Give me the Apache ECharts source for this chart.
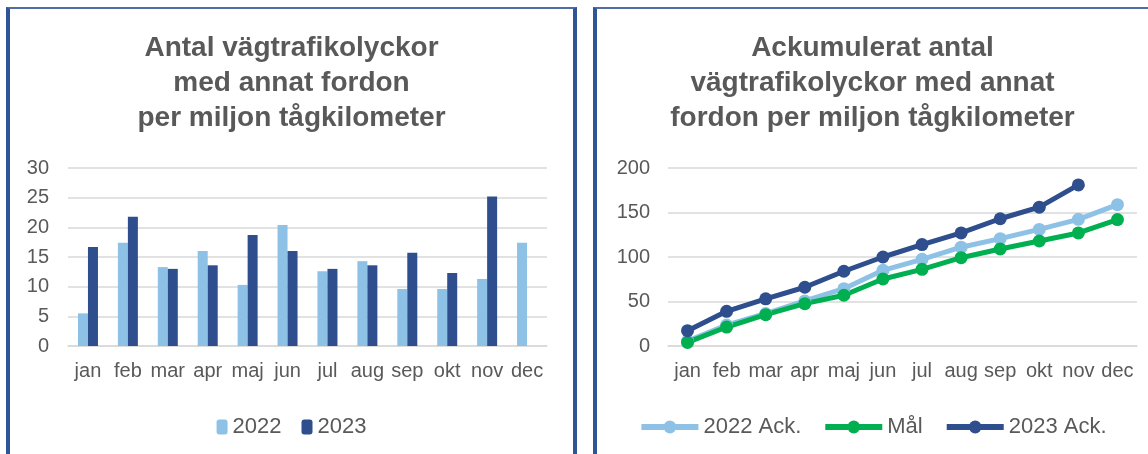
<!DOCTYPE html>
<html>
<head>
<meta charset="utf-8">
<title>Vägtrafikolyckor</title>
<script src="https://cdn.jsdelivr.net/npm/echarts@6/dist/echarts.min.js"></script>
<style>
	body { margin: 0; background: #fff; }
	.panel { position: absolute; top: 7px; height: 447px; box-sizing: border-box; border-top: 2px solid #4F6EA8; }
	#panelL { left: 6px; width: 571px; border-left: 4px solid #2F5597; border-right: 4px solid #2F5597; }
	#panelR { left: 593px; width: 555px; border-left: 4px solid #2F5597; }
	.chart { width: 100%; height: 445px; }
</style>
</head>
<body>
<div class="panel" id="panelL"><div class="chart" id="chartL"></div></div>
<div class="panel" id="panelR"><div class="chart" id="chartR"></div></div>
<script>
	var months = ['jan', 'feb', 'mar', 'apr', 'maj', 'jun', 'jul', 'aug', 'sep', 'okt', 'nov', 'dec'];

	/*antal per månad*/
	var bars2022 = [5.5, 17.4, 13.3, 16.0, 10.3, 20.4, 12.6, 14.3, 9.6, 9.6, 11.3, 17.4];
	var bars2023 = [16.7, 21.8, 13.0, 13.6, 18.7, 16.0, 13.0, 13.6, 15.7, 12.3, 25.2, null];

	/*ackumulerat*/
	var ack2022 = [5.5, 23.5, 36.5, 50.6, 64.4, 85, 97.4, 111, 120.6, 131, 142.3, 158.8];
	var malAck = [4, 21.3, 35.2, 47.6, 57, 75.3, 86.1, 99.2, 109, 118, 127, 142];
	var ack2023 = [17.2, 39, 53, 66, 84, 100, 114, 127, 143, 156, 181, null];

	var lightBlue = '#8DC2E6';
	var darkBlue = '#2E4E8E';
	var green = '#00B050';
	var grey = '#595959';
	var gridGrey = '#D9D9D9';
	var font = '"Liberation Sans", Arial, sans-serif';

	function titleOpt(text) {
		return {
			text: text,
			left: 'center',
			top: 17,
			textStyle: {
				fontFamily: font,
				fontWeight: 'bold',
				fontSize: 28,
				lineHeight: 35,
				color: grey
			}
		};
	}

	function xAxisOpt() {
		return {
			type: 'category',
			data: months,
			axisTick: { show: false },
			axisLine: { lineStyle: { color: gridGrey, width: 1.5 } },
			axisLabel: { color: grey, fontFamily: font, fontSize: 20, margin: 15, interval: 0 }
		};
	}

	function yAxisOpt(max, interval, margin) {
		return {
			type: 'value',
			min: 0,
			max: max,
			interval: interval,
			axisLine: { show: false },
			axisTick: { show: false },
			axisLabel: { color: grey, fontFamily: font, fontSize: 20, margin: margin },
			splitLine: { lineStyle: { color: gridGrey, width: 1.5 } }
		};
	}

	/*vänster diagram*/
	var chartL = echarts.init(document.getElementById('chartL'));
	chartL.setOption({
		animation: false,
		title: titleOpt('Antal vägtrafikolyckor\nmed annat fordon\nper miljon tågkilometer'),
		legend: {
			data: ['2022', '2023'],
			left: 'center',
			top: 402,
			itemWidth: 11,
			itemHeight: 15,
			itemGap: 20,
			textStyle: { color: grey, fontFamily: font, fontSize: 22 }
		},
		grid: { left: 58, right: 26, top: 159, bottom: 108 },
		xAxis: xAxisOpt(),
		yAxis: yAxisOpt(30, 5, 19),
		series: [{
			name: '2022',
			type: 'bar',
			data: bars2022,
			barWidth: 10,
			barGap: '0%',
			itemStyle: { color: lightBlue }
		}, {
			name: '2023',
			type: 'bar',
			data: bars2023,
			barWidth: 10,
			itemStyle: { color: darkBlue }
		}]
	});

	/*höger diagram*/
	function lineSeries(name, data, color) {
		return {
			name: name,
			type: 'line',
			data: data,
			symbol: 'circle',
			symbolSize: 13,
			lineStyle: { color: color, width: 5 },
			itemStyle: { color: color }
		};
	}

	var chartR = echarts.init(document.getElementById('chartR'));
	chartR.setOption({
		animation: false,
		title: titleOpt('Ackumulerat antal\nvägtrafikolyckor med annat\nfordon per miljon tågkilometer'),
		legend: {
			data: ['2022 Ack.', 'Mål', '2023 Ack.'],
			left: 'center',
			top: 402,
			itemWidth: 57,
			itemHeight: 16,
			itemGap: 21,
			lineStyle: { width: 6 },
			textStyle: { color: grey, fontFamily: font, fontSize: 22 }
		},
		grid: { left: 71, right: 11, top: 159, bottom: 108 },
		xAxis: xAxisOpt(),
		yAxis: yAxisOpt(200, 50, 18),
		series: [
			lineSeries('2022 Ack.', ack2022, lightBlue),
			lineSeries('Mål', malAck, green),
			lineSeries('2023 Ack.', ack2023, darkBlue)
		]
	});
</script>
</body>
</html>
